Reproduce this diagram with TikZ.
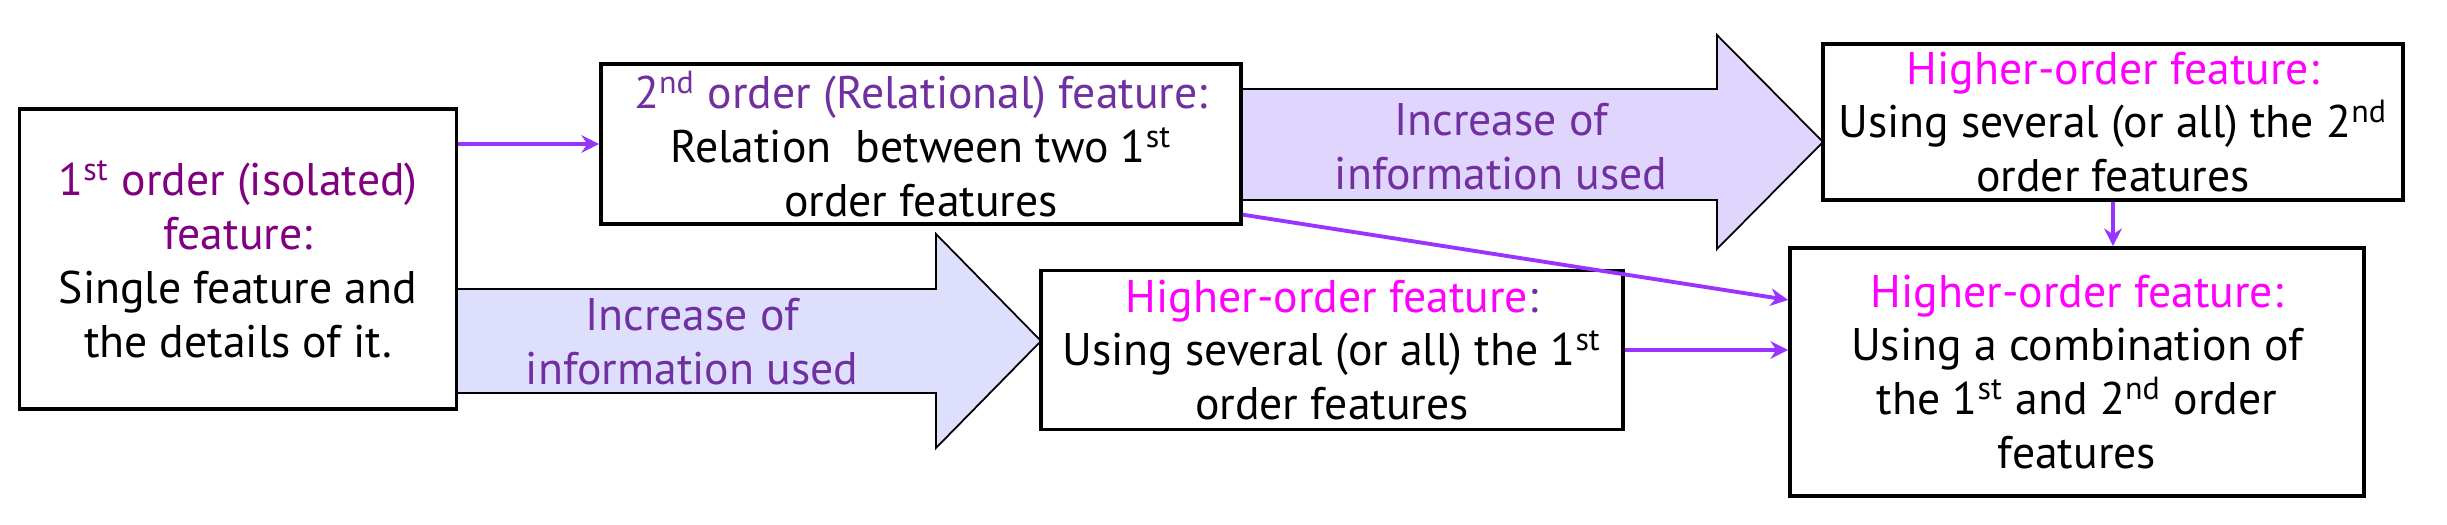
\documentclass[tikz,border=0pt]{standalone}
\usepackage{fontspec}
\setmainfont{PT Sans}
\usepackage{xcolor}
\usepackage{tikz}
\usetikzlibrary{arrows.meta,positioning,calc}
\definecolor{isoPurple} {RGB}{128,   0, 128}
\definecolor{relPurple} {RGB}{112,  48, 160}
\definecolor{highMag}   {RGB}{255,   0, 255}
\definecolor{linkViolet}{RGB}{153,  51, 255}
\definecolor{flowLow}   {RGB}{222, 222, 253}
\definecolor{flowTop}   {RGB}{224, 213, 252}

\begin{document}
\begin{tikzpicture}[x=0.01cm,y=-0.01cm,
    featbox/.style={draw=black,fill=white,line width=1pt,align=center,
                    font=\fontsize{13}{15.3}\selectfont,inner sep=2pt},
    flowtxt/.style={align=center,text=relPurple,
                    font=\fontsize{13}{15.3}\selectfont},
    link/.style={-{Stealth[length=5pt,width=5pt]},linkViolet,line width=1.1pt}]

    \useasboundingbox (0,0) rectangle (2447,525);

    % ── BIG ARROWS ─────────────────────────────────────────
    \draw[fill=flowLow,line width=0.5pt]
      (457,289)--(936,289)--(936,234)--(1041,341)--(936,448)--(936,393)--(457,393)--cycle;
    \node[flowtxt] (incLow) at (692,342){Increase of\\information used};
    \draw[fill=flowTop,line width=0.5pt]
      (1241,89)--(1717,89)--(1717,35)--(1823,142)--(1717,249)--(1717,200)--(1241,200)--cycle;
    \node[flowtxt] (incTop) at (1501,147){Increase of\\information used};

    % ── FEATURE BOXES ──────────────────────────────────────
    \node[featbox,minimum width=4.37cm,minimum height=3.0cm] (first) at (238,259)
      {\textcolor{isoPurple}{1\textsuperscript{st} order (isolated)}\\
       \textcolor{isoPurple}{feature:}\\
       Single feature and\\the details of it.};
    \node[featbox,minimum width=6.4cm,minimum height=1.56cm] (second) at (921,144)
      {\textcolor{relPurple}{2\textsuperscript{nd} order (Relational) feature:}\\
       Relation~ between two 1\textsuperscript{st}\\order features};
    \node[featbox,minimum width=5.82cm,minimum height=1.59cm] (highOne) at (1332,350)
      {\textcolor{highMag}{Higher-order feature}\textcolor{relPurple}{:}\\
       Using several (or all) the 1\textsuperscript{st}\\order features};
    \node[featbox,minimum width=5.8cm,minimum height=1.56cm] (highTwo) at (2113,122)
      {\textcolor{highMag}{Higher-order feature:}\\
       Using several (or all) the 2\textsuperscript{nd}\\order features};
    \node[featbox,minimum width=5.74cm,minimum height=2.48cm] (highMix) at (2077,372)
      {\textcolor{highMag}{Higher-order feature:}\\
       Using a combination of\\
       the 1\textsuperscript{st} and 2\textsuperscript{nd} order\\features};

    % ── LINKS ──────────────────────────────────────────────
    \draw[link] (first.east |- second.west) -- (second.west);
    \draw[link] ([yshift=0.11cm]second.south east) -- ([yshift=0.72cm]highMix.west);
    \draw[link] (highOne.east) -- (highOne.east -| highMix.west);
    \draw[link] (highTwo.south) -- (highTwo.south |- highMix.north);

\end{tikzpicture}
\end{document}
